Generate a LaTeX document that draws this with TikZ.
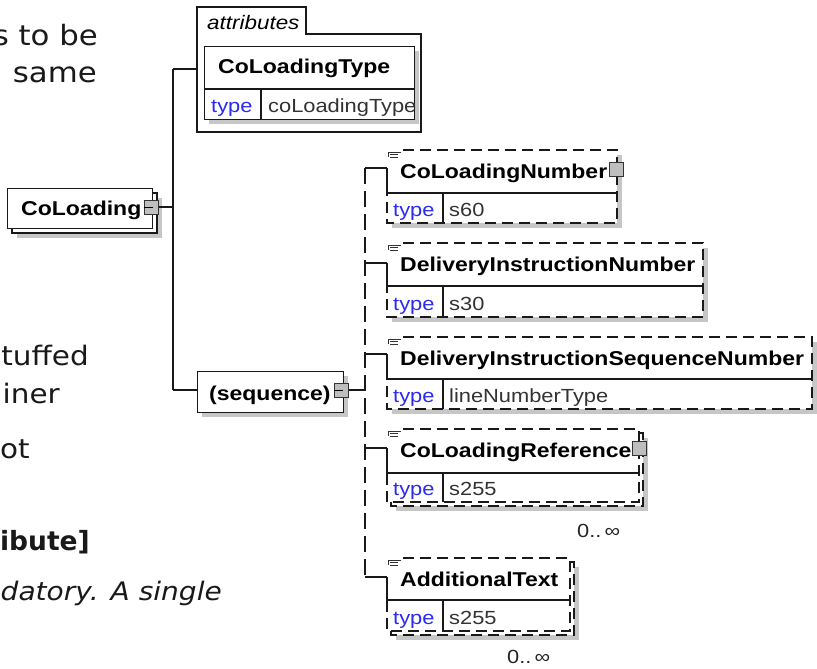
\documentclass[tikz,border=0pt]{standalone}
\usepackage{fontspec}
\setmainfont{Liberation Sans}
\newfontfamily\xsf[FakeStretch=1.15]{Liberation Sans}
\newfontfamily\docf[FakeStretch=1.1]{DejaVu Sans}
\newfontfamily\docb{DejaVu Sans}
\definecolor{typeblue}{HTML}{2B2BF0}
\definecolor{shadowgray}{HTML}{C6C6C6}
\definecolor{sqgray}{HTML}{BEBEBE}
\tikzset{
  ln/.style={line width=1.3pt, draw=black!90},
  dsh/.style={ln, dash pattern=on 11pt off 6pt},
  vdsh/.style={ln, dash pattern=on 16pt off 7pt},
  shd/.style={fill=shadowgray},
  frame/.style={rectangle, inner sep=0, fill=white, anchor=north west},
  nm/.style={anchor=base west, inner sep=0, font=\xsf\bfseries\fontsize{20}{24}\selectfont},
  tp/.style={anchor=base west, inner sep=0, text=typeblue, font=\xsf\fontsize{19}{23}\selectfont},
  vl/.style={anchor=base west, inner sep=0, text=black!80, font=\xsf\fontsize{19}{23}\selectfont},
  occ/.style={anchor=base west, inner sep=0, text=black!85, font=\xsf\fontsize{19}{23}\selectfont},
  doctext/.style={anchor=base east, inner sep=0, text=black!90, font=\docf\fontsize{28}{34}\selectfont},
  docsmall/.style={doctext, font=\docf\fontsize{26.8}{32}\selectfont},
  sq/.style={draw=black!80, fill=sqgray, line width=1pt, minimum size=14pt, inner sep=0},
  icon/.style={line width=0.8pt, draw=black!80},
}
% shadow of a box
\newcommand\xshadow[4]{\fill[shd] (#1+5,#2+5) rectangle (#3+5,#4+5);}
% back box of a repeated element
\newcommand\xback[4]{%
  \fill[shd] (#1+9,#2+9) rectangle (#3+9,#4+9);
  \fill[white] (#1+4,#2+4) rectangle (#3+4,#4+4);
  \draw[dsh] (#1+4,#2+4) rectangle (#3+4,#4+4);}
% element box: id, x1, y1, x2, yhead, y2, yconn, name, value
\newcommand\xelem[9]{%
  \node[frame, minimum width={#4-#2}, minimum height={#6-#3}] (#1) at (#2,#3) {};
  \draw[dsh] (#2+16,#3) -- (#4,#3) -- (#4,#6) -- (#2,#6) -- (#2,#5);
  \draw[ln] (#2,#7) -- (#2,#5) -- (#4,#5);
  \draw[ln] (443,#5) -- (443,#6);
  \draw[icon] (#2+1,#3+2) -- (#2+14,#3+2) (#2+1,#3+2) -- (#2+1,#3+7)
    (#2+3,#3+4.5) -- (#2+11,#3+4.5) (#2+3,#3+7) -- (#2+11,#3+7);
  \node[nm] (#1-name) at (400,#3+28) {#8};
  \node[tp] (#1-type) at (393,#6-7) {type};
  \node[vl] (#1-val) at (449,#6-7) {#9};
}
\begin{document}
\begin{tikzpicture}[x=1pt,y=-1pt]
\useasboundingbox (0,0) rectangle (817,669);
\clip (0,0) rectangle (817,669);
\fill[white] (0,0) rectangle (817,669);

% ---- left text fragments (cut by the picture's left edge, as in the reference)
\node[doctext] (d1) at (98,46) {s to be};
\node[doctext] (d2) at (97,82) {same};
\node[docsmall] (d3) at (89,365) {tuffed};
\node[docsmall] (d4) at (60,403) {iner};
\node[docsmall] (d5) at (30,458) {ot};
\node[doctext, font=\docb\bfseries\fontsize{26.5}{32}\selectfont] (d6) at (90,550) {ibute]};
\node[doctext, font=\docf\itshape\fontsize{25.5}{31}\selectfont] (d7) at (222,600) {datory. A single};

% ---- CoLoading
\fill[shd] (17,198) rectangle (162,238);
\draw[ln, fill=white] (12,193) rectangle (157,233);
\node[frame, draw=black!90, line width=1.3pt, minimum width=145, minimum height=40] (coload) at (7,188) {};
\node[nm] (coload-name) at (21,215) {CoLoading};
\node[sq] (coload-sq) at (151,207) {};
\draw[line width=1pt] (coload-sq.west) -- ++(9,0);

% ---- trunk
\coordinate (t-top) at (173,69);
\coordinate (t-mid) at (173,207);
\coordinate (t-bot) at (173,390);

% ---- attributes group
\node[inner sep=0, minimum width=224, minimum height=125, anchor=north west] (attr) at (197,7) {};
\draw[ln] (197,132) -- (197,7) -- (306,7) -- (306,34) -- (421,34) -- (421,132) -- cycle;
\node[anchor=base west, inner sep=0, font=\xsf\itshape\fontsize{19.5}{23}\selectfont] (attr-lbl) at (207,30) {attributes};
\xshadow{204}{46}{414}{119}
\node[frame, draw=black!90, line width=1.3pt, minimum width=210, minimum height=73] (attrtype) at (204,46) {};
\draw[ln] (204,89) -- (414,89);
\draw[ln] (261,89) -- (261,119);
\node[nm] (attrtype-name) at (218,74) {CoLoadingType};
\node[tp] (attrtype-type) at (211,112) {type};
\node[vl] (attrtype-val) at (268,112) {coLoadingType};

% ---- sequence
\xshadow{197}{371}{343}{412}
\node[frame, draw=black!90, line width=1.3pt, minimum width=146, minimum height=41] (seq) at (197,371) {};
\node[nm] (seq-name) at (209,400) {(sequence)};
\node[sq] (seq-sq) at (341,390) {};
\draw[line width=1pt] (seq-sq.west) -- ++(9,0);

% trunk connectors
\draw[ln] (coload-sq.east) -- (t-mid);
\draw[ln] (t-top) -- (t-bot);
\draw[ln] (t-top) -- (attr.west |- t-top);
\draw[ln] (t-bot) -- (seq.west |- t-bot);

% ---- children
\xshadow{387}{150}{617}{223}
\xelem{c1}{387}{150}{617}{193}{223}{168}{CoLoadingNumber}{s60}
\node[sq] (c1-sq) at (616,169) {};

\xshadow{387}{243}{703}{317}
\xelem{c2}{387}{243}{703}{286}{317}{263}{DeliveryInstructionNumber}{s30}

\xshadow{387}{337}{812}{409}
\xelem{c3}{387}{337}{812}{379}{409}{354}{DeliveryInstructionSequenceNumber}{lineNumberType}

\xback{387}{429}{639}{502}
\xelem{c4}{387}{429}{639}{473}{502}{448}{CoLoadingReference}{s255}
\node[sq] (c4-sq) at (639,448) {};
\node[occ] (c4-occ) at (577,537) {0..\,∞};

\xback{387}{558}{570}{631}
\xelem{c5}{387}{558}{570}{600}{631}{577}{AdditionalText}{s255}
\node[occ] (c5-occ) at (507,663) {0..\,∞};

% ---- sequence bus
\coordinate (j1) at (365,168);
\coordinate (j2) at (365,263);
\coordinate (j3) at (365,354);
\coordinate (j4) at (365,448);
\coordinate (j5) at (365,577);
\coordinate (jseq) at (365,390);
\draw[vdsh] (j1) -- (j5);
\draw[ln] (seq-sq.east) -- (jseq);
\draw[ln] (j1) -- (c1.north west |- j1);
\draw[ln] (j2) -- (c2.north west |- j2);
\draw[ln] (j3) -- (c3.north west |- j3);
\draw[ln] (j4) -- (c4.north west |- j4);
\draw[ln] (j5) -- (c5.north west |- j5);
\end{tikzpicture}
\end{document}
